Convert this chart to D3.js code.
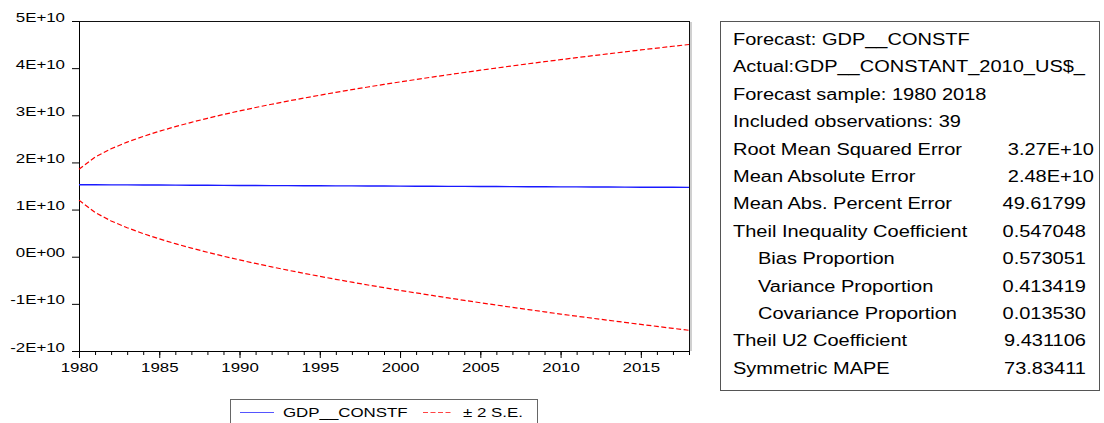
<!DOCTYPE html>
<html>
<head>
<meta charset="utf-8">
<script src="https://cdn.jsdelivr.net/npm/d3@7"></script>
<style>
  body { margin: 0; background: #fff; }
  svg { display: block; }
  text { font-family: "Liberation Sans", Arial, sans-serif; fill: #000; }
</style>
</head>
<body>
<svg id="chart" width="1104" height="423"></svg>
<script>
// Forecast years
const years = [1980, 1981, 1982, 1983, 1984, 1985, 1986, 1987, 1988, 1989,
               1990, 1991, 1992, 1993, 1994, 1995, 1996, 1997, 1998, 1999,
               2000, 2001, 2002, 2003, 2004, 2005, 2006, 2007, 2008, 2009,
               2010, 2011, 2012, 2013, 2014, 2015, 2016, 2017, 2018];

// Forecast GDP__CONSTF (billions of constant 2010 US$)
const forecast = [15.27, 15.26, 15.24, 15.23, 15.21, 15.20, 15.18, 15.17, 15.15, 15.14,
                  15.12, 15.11, 15.09, 15.08, 15.06, 15.05, 15.03, 15.02, 15.00, 14.99,
                  14.97, 14.96, 14.94, 14.93, 14.91, 14.90, 14.88, 14.87, 14.85, 14.84,
                  14.82, 14.81, 14.79, 14.78, 14.76, 14.75, 14.73, 14.72, 14.70];

// Upper band, forecast + 2 S.E. (billions)
const upper = [18.54, 21.14, 22.89, 24.31, 25.52, 26.61, 27.59, 28.51, 29.36, 30.17,
               30.92, 31.65, 32.34, 33.01, 33.64, 34.26, 34.86, 35.44, 36.00, 36.55,
               37.08, 37.60, 38.10, 38.60, 39.08, 39.56, 40.02, 40.48, 40.93, 41.37,
               41.80, 42.23, 42.64, 43.05, 43.45, 43.86, 44.24, 44.64, 45.01];

// Lower band, forecast - 2 S.E. (billions)
const lower = [12.00, 9.38, 7.59, 6.15, 4.90, 3.79, 2.77, 1.83, 0.94, 0.11,
               -0.68, -1.43, -2.16, -2.85, -3.52, -4.16, -4.80, -5.40, -6.00, -6.57,
               -7.14, -7.68, -8.22, -8.74, -9.26, -9.76, -10.26, -10.74, -11.23, -11.69,
               -12.16, -12.61, -13.06, -13.49, -13.93, -14.36, -14.78, -15.20, -15.61];

const BILLION = 1e9;

// Axis ticks
const yTicks = [-2e10, -1e10, 0, 1e10, 2e10, 3e10, 4e10, 5e10];
const yTickLabels = ["-2E+10", "-1E+10", "0E+00", "1E+10", "2E+10", "3E+10", "4E+10", "5E+10"];
const xMajorTicks = [1980, 1985, 1990, 1995, 2000, 2005, 2010, 2015];

// Legend entries
const legendLabels = ["GDP__CONSTF", "\u00B1 2 S.E."];

// Forecast evaluation table
const statLabels = [
  "Forecast: GDP__CONSTF",
  "Actual:GDP__CONSTANT_2010_US$_",
  "Forecast sample: 1980 2018",
  "Included observations: 39",
  "Root Mean Squared Error",
  "Mean Absolute Error",
  "Mean Abs. Percent Error",
  "Theil Inequality Coefficient",
  "Bias Proportion",
  "Variance Proportion",
  "Covariance Proportion",
  "Theil U2 Coefficient",
  "Symmetric MAPE"
];
const statValues = ["", "", "", "", "3.27E+10", "2.48E+10", "49.61799", "0.547048",
                    "0.573051", "0.413419", "0.013530", "9.431106", "73.83411"];

// ---------------------------------------------------------------------------
const svg = d3.select("#chart");
const SX = 1.25;            // horizontal stretch of the label glyphs
const plot = { left: 79, right: 689, top: 21, bottom: 351 };

const x = d3.scaleLinear().domain([1980, 2018]).range([plot.left, plot.right]);
const y = d3.scaleLinear().domain([-2e10, 5e10]).range([plot.bottom, plot.top]);

function stretchText(sel, tx, ty, anchor) {
  sel.attr("x", null).attr("y", null).attr("dy", null)
     .attr("text-anchor", anchor)
     .attr("transform", `translate(${tx},${ty}) scale(${SX},1)`);
}

// Plot frame
svg.append("rect")
  .attr("x", plot.left + 0.5).attr("y", plot.top + 0.5)
  .attr("width", plot.right - plot.left).attr("height", plot.bottom - plot.top)
  .attr("fill", "none").attr("stroke", "#111").attr("stroke-width", 1);
svg.append("line")
  .attr("x1", plot.right + 2).attr("x2", plot.right + 2)
  .attr("y1", plot.top + 1).attr("y2", plot.bottom)
  .attr("stroke", "#d0d0d0").attr("stroke-width", 2);

// Y axis
const yAxis = svg.append("g")
  .attr("transform", `translate(${plot.left},0)`)
  .call(d3.axisLeft(y).tickValues(yTicks).tickSize(7).tickSizeOuter(0)
          .tickFormat((d, i) => yTickLabels[i]));
yAxis.selectAll("text").style("font-size", "13.5px")
  .each(function () { stretchText(d3.select(this), -14, 0, "end"); });

// X axis: yearly minor ticks, labelled major ticks
svg.append("g")
  .attr("transform", `translate(0,${plot.bottom})`)
  .call(d3.axisBottom(x).tickValues(years).tickSize(4).tickSizeOuter(0).tickFormat(""));
const xAxis = svg.append("g")
  .attr("transform", `translate(0,${plot.bottom})`)
  .call(d3.axisBottom(x).tickValues(xMajorTicks).tickSize(7).tickSizeOuter(0)
          .tickFormat(d3.format("d")));
xAxis.selectAll("text").style("font-size", "13.5px")
  .each(function () { stretchText(d3.select(this), 0, 21, "middle"); });
svg.selectAll(".domain, .tick line").attr("stroke", "#000");
svg.selectAll(".tick text").attr("fill", "#000");

// Series lines
const line = d3.line().x((d, i) => x(years[i])).y(d => y(d * BILLION));

svg.append("path").datum(upper)
  .attr("d", line).attr("fill", "none")
  .attr("stroke", "#ff0000").attr("stroke-width", 1.2).attr("stroke-dasharray", "5,2.5");
svg.append("path").datum(lower)
  .attr("d", line).attr("fill", "none")
  .attr("stroke", "#ff0000").attr("stroke-width", 1.2).attr("stroke-dasharray", "5,2.5");
svg.append("path").datum(forecast)
  .attr("d", line).attr("fill", "none")
  .attr("stroke", "#1a1aff").attr("stroke-width", 1.4);

// Legend
const legend = svg.append("g");
legend.append("rect")
  .attr("x", 230.5).attr("y", 399.5).attr("width", 307).attr("height", 40)
  .attr("fill", "#fff").attr("stroke", "#666");
legend.append("line")
  .attr("x1", 240).attr("x2", 274).attr("y1", 412.5).attr("y2", 412.5)
  .attr("stroke", "#5555ff").attr("stroke-width", 1.2);
legend.append("text").text(legendLabels[0]).style("font-size", "13.5px")
  .call(stretchText, 283, 417, "start");
legend.append("line")
  .attr("x1", 423).attr("x2", 453).attr("y1", 412.5).attr("y2", 412.5)
  .attr("stroke", "#ff4444").attr("stroke-width", 1.2).attr("stroke-dasharray", "5,2.5");
legend.append("text").text(legendLabels[1]).style("font-size", "13.5px")
  .call(stretchText, 463, 417, "start");

// Statistics table
const table = svg.append("g");
table.append("rect")
  .attr("x", 720.5).attr("y", 21.5).attr("width", 379).attr("height", 369)
  .attr("fill", "#fff").attr("stroke", "#555");
const subRows = new Set(["Bias Proportion", "Variance Proportion", "Covariance Proportion"]);
const rowY = i => 45 + i * 27.4;
statLabels.forEach((lab, i) => {
  table.append("text").text(lab).style("font-size", "16px")
    .call(stretchText, subRows.has(lab) ? 758 : 733, rowY(i), "start");
  const v = statValues[i];
  if (v) {
    table.append("text").text(v).style("font-size", "16px")
      .call(stretchText, v.includes("E") ? 1094 : 1086, rowY(i), "end");
  }
});
</script>
</body>
</html>
